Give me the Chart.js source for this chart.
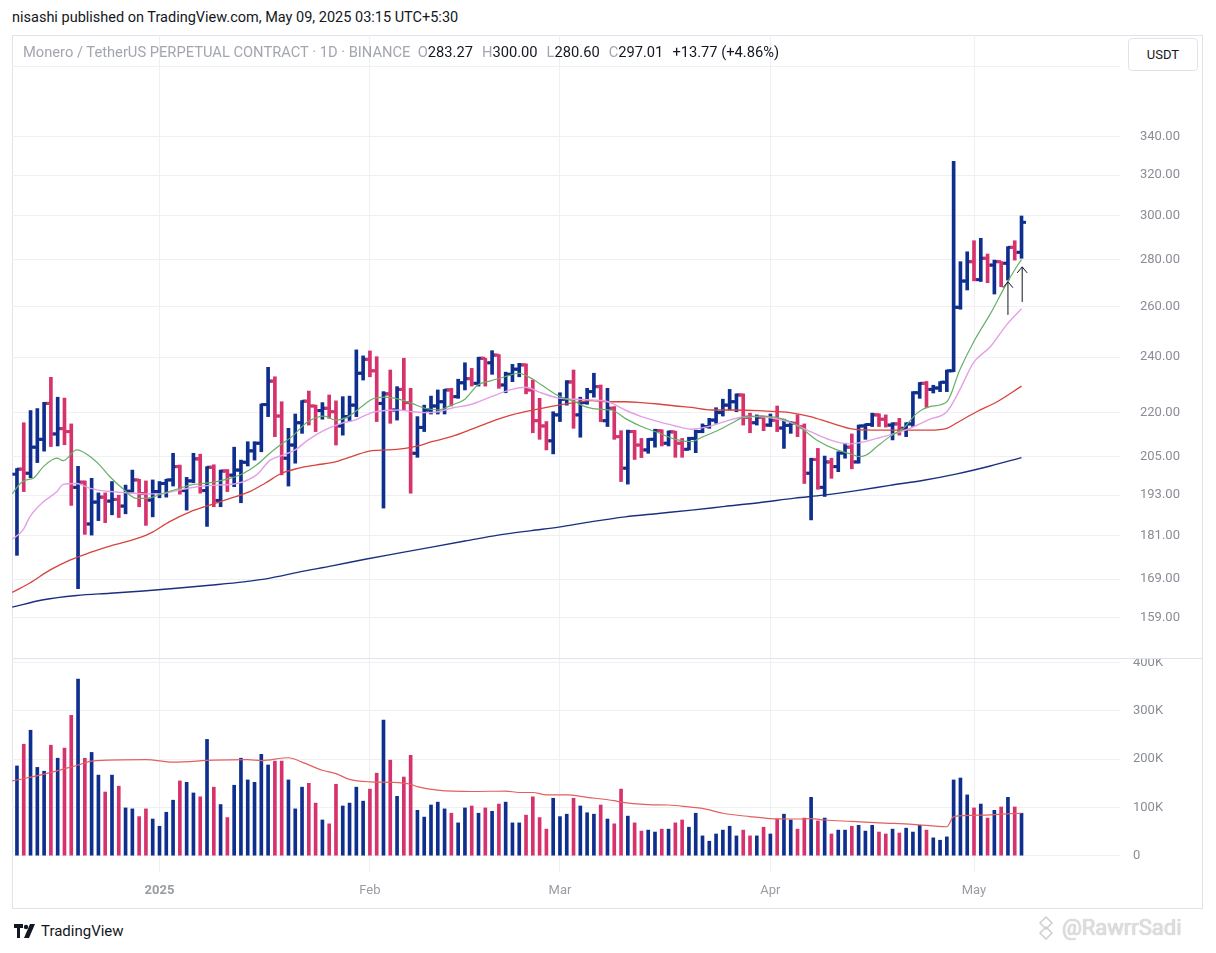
<!DOCTYPE html>
<html><head><meta charset="utf-8">
<script src="https://cdn.jsdelivr.net/npm/chart.js@4.4.1/dist/chart.umd.min.js"></script>
<style>
html,body{margin:0;padding:0;background:#fff;}
body{width:1216px;height:953px;position:relative;overflow:hidden;font-family:Roboto,'Liberation Sans',sans-serif;color:#131722;}
#hdr{position:absolute;left:12px;top:9px;font-size:14.5px;white-space:nowrap;}
#frame{position:absolute;left:12px;top:35px;width:1191px;height:874px;border:1px solid #e0e3eb;box-sizing:border-box;}
#legend{position:absolute;left:23px;top:43px;font-size:14.7px;color:#a3a6af;white-space:nowrap;}
#legend .v{color:#131722;margin-right:9px;}
#usdt{position:absolute;left:1128px;top:38px;width:70px;height:33px;border:1px solid #e0e3eb;border-radius:4px;box-sizing:border-box;font-size:13px;text-align:center;line-height:31px;background:#fff;color:#131722;}
#cp{position:absolute;left:12px;top:35px;}
#cv{position:absolute;left:12px;top:658px;}
#sep{position:absolute;left:12px;top:658px;width:1191px;height:1px;background:#e0e3eb;}
#brand{position:absolute;left:14px;top:922px;font-size:15px;color:#131722;display:flex;align-items:center;gap:5px;}
#wm{position:absolute;left:1034px;top:915px;font-size:22px;color:#dedede;display:flex;align-items:center;gap:4px;text-shadow:0 0 1px #b5b5b5;}
</style></head>
<body>
<div id="hdr">nisashi published on TradingView.com, May 09, 2025 03:15 UTC+5:30</div>
<div id="frame"></div>
<canvas id="cp" width="1191" height="623"></canvas>
<canvas id="cv" width="1191" height="252"></canvas>
<div id="sep"></div>
<div id="legend">Monero / TetherUS PERPETUAL CONTRACT · 1D · BINANCE&nbsp;&nbsp;O<span class="v">283.27</span>H<span class="v">300.00</span>L<span class="v">280.60</span>C<span class="v">297.01</span><span class="v">+13.77 (+4.86%)</span></div>
<div id="usdt">USDT</div>
<div id="brand"><svg width="22" height="14" viewBox="0 0 22 14"><path d="M0 0h9v4H6v10H3V4H0z" fill="#131722"/><circle cx="12" cy="3" r="2.2" fill="#131722"/><path d="M16 0h5l-6 14h-5z" fill="#131722"/></svg><span>TradingView</span></div>
<div id="wm"><svg width="24" height="24" viewBox="0 0 24 24"><path d="M12 1l6 6-6 6-6-6z M12 11l6 6-6 6-6-6z" fill="none" stroke="#cfcfcf" stroke-width="1.5"/></svg><span>@RawrrSadi</span></div>
<script>
// ---- data (day index 0 = 2024-12-11, 148 = 2025-05-08) ----
const monthTickDays = [21, 52, 80, 111, 141];
const monthLabels = ['2025', 'Feb', 'Mar', 'Apr', 'May'];
const priceTicks = [159, 169, 181, 193, 205, 220, 240, 260, 280, 300, 320, 340, 380];
const hiddenPriceLabels = [380];
const volumeTicksK = [0, 100, 200, 300, 400];

const opens = [199.5,201.1,199.8,208.2,210.8,223.1,212.6,214.4,213.4,195.4,
197.0,184.4,190.9,192.4,191.2,191.7,189.7,194.2,197.7,193.5,
191.5,194.1,196.6,197.7,201.9,194.4,197.4,204.4,194.4,201.7,
191.4,200.5,199.2,200.8,203.3,207.0,209.5,222.7,231.1,218.7,
204.6,208.9,216.4,223.9,222.2,220.6,221.4,220.2,215.3,218.5,
222.5,234.0,239.2,234.9,223.1,226.5,220.8,228.1,223.4,206.2,
214.8,220.8,222.2,223.7,227.9,225.5,230.5,232.0,230.3,239.6,
237.9,240.8,229.7,233.6,235.5,237.1,227.9,217.1,215.3,210.3,
219.1,224.6,230.8,219.1,223.4,227.3,229.1,217.1,221.4,211.7,
201.4,213.4,208.9,207.3,210.8,213.7,209.5,213.3,209.5,207.5,
211.1,213.4,215.1,217.3,219.9,222.5,223.7,226.1,218.3,216.4,
218.3,215.6,217.3,214.6,215.5,216.2,215.0,199.8,204.2,195.4,
203.4,201.9,206.3,208.2,203.4,215.3,215.8,219.1,217.6,215.6,
216.0,214.5,216.0,226.9,230.3,228.1,228.6,230.7,234.9,259.7,
270.7,279.1,271.3,280.6,277.6,279.1,278.4,285.5,283.27];
const highs = [201.3,216.4,220.6,221.3,223.5,232.5,225.3,225.0,216.0,202.0,
197.4,198.2,193.7,193.7,197.2,193.0,196.1,200.8,197.9,197.4,
197.7,197.2,197.9,206.2,202.4,198.5,206.2,205.9,201.9,202.5,
200.8,201.0,208.2,204.0,210.0,210.0,222.9,236.2,232.7,223.7,
214.5,219.4,224.1,227.5,222.5,223.4,226.1,224.0,225.5,225.7,
242.8,240.5,242.4,240.2,227.3,235.2,229.1,239.6,228.5,218.5,
222.5,225.7,227.9,228.1,228.5,231.8,237.9,235.8,240.0,239.6,
242.5,241.0,234.4,237.3,237.7,237.5,231.5,224.9,216.8,220.2,
226.9,231.3,235.2,225.3,228.5,234.0,229.7,228.5,222.0,213.7,
213.9,213.8,211.1,211.1,214.2,214.0,213.6,213.5,211.1,211.5,
213.9,216.0,217.9,221.6,224.6,228.1,226.5,226.5,219.7,219.1,
218.7,219.4,222.2,217.6,216.8,219.1,216.0,204.6,207.8,205.3,
204.6,206.7,209.5,212.6,215.6,216.0,219.7,219.5,219.1,216.4,
217.9,216.4,227.3,230.6,231.0,229.6,230.9,235.2,327.0,279.1,
283.5,288.5,289.6,282.5,279.8,279.2,285.8,288.5,300.00];
const lows = [175.5,194.1,198.4,203.2,206.9,208.4,208.6,209.0,189.9,166.5,
181.4,181.2,185.4,184.8,187.1,186.3,187.4,193.9,189.5,184.0,
186.5,192.2,192.4,195.8,193.3,188.5,196.8,193.6,183.7,189.5,
189.5,194.1,195.6,190.7,202.1,204.0,206.7,218.5,211.7,199.3,
195.8,203.0,212.8,215.6,213.4,217.6,217.9,208.9,212.2,216.8,
218.5,231.5,232.7,216.8,189.1,216.2,217.3,220.8,193.6,204.9,
213.4,219.4,219.4,219.4,222.2,224.9,227.9,229.3,229.3,229.3,
233.6,228.5,226.9,230.9,232.7,226.5,213.0,210.8,207.3,206.0,
216.8,222.5,214.5,211.5,222.8,225.3,216.8,215.1,210.8,197.2,
196.4,204.2,204.8,206.2,208.2,208.6,208.6,204.9,204.9,207.3,
206.4,213.0,214.5,216.2,218.7,220.8,220.2,215.6,213.0,215.6,
213.7,215.1,213.4,207.8,212.8,211.7,196.6,185.6,194.8,192.6,
198.2,200.3,204.6,201.2,203.0,210.8,215.1,215.1,214.9,210.6,
212.2,211.7,215.1,224.9,221.7,226.8,227.3,227.3,234.6,258.9,
266.9,270.8,270.5,270.0,265.2,268.3,271.1,279.8,280.60];
const closes = [201.1,199.8,208.2,210.8,223.1,212.6,214.4,213.4,195.4,197.0,
184.4,190.9,192.4,191.2,191.7,189.7,194.2,197.7,193.5,191.5,
194.1,196.6,197.7,201.9,194.4,197.4,204.4,194.4,201.7,191.4,
200.5,199.2,200.8,203.3,207.0,209.5,222.7,231.1,218.7,204.6,
208.9,216.4,223.9,222.2,220.6,221.4,220.2,215.3,218.5,222.5,
234.0,239.2,234.9,223.1,226.5,220.8,228.1,223.4,206.2,214.8,
220.8,222.2,223.7,227.9,225.5,230.5,232.0,230.3,239.6,237.9,
240.8,229.7,233.6,235.5,237.1,227.9,217.1,215.3,210.3,219.1,
224.6,230.8,219.1,223.4,227.3,229.1,217.1,221.4,211.7,201.4,
213.4,208.9,207.3,210.8,213.7,209.5,213.3,209.5,207.5,211.1,
213.4,215.1,217.3,219.9,222.5,223.7,226.1,218.3,216.4,218.3,
215.6,217.3,214.6,215.5,216.2,215.0,199.8,204.2,195.4,203.4,
201.9,206.3,208.2,203.4,215.3,215.8,219.1,217.6,215.6,216.0,
214.5,216.0,226.9,230.3,228.1,228.6,230.7,234.9,259.7,270.7,
279.1,271.3,280.6,277.6,279.1,278.4,285.5,283.24,297.01];
const volumeK = [186,231,260,183,175,229,202,223,291,366,
202,214,167,132,167,144,99,97,81,97,
76,61,90,115,155,152,130,122,241,142,
106,79,146,202,157,152,210,188,196,196,
157,97,142,150,109,74,66,148,103,109,
142,113,138,171,281,198,123,163,208,94,
80,105,111,97,88,68,99,103,88,99,
92,107,111,68,68,84,122,79,55,119,
81,86,119,103,89,86,105,76,66,138,
82,68,51,53,49,55,55,68,74,59,
88,41,30,45,53,61,41,53,41,41,
59,45,76,86,74,55,78,121,72,78,
45,53,53,61,63,51,63,49,45,55,
47,57,49,63,53,37,32,39,157,161,
126,99,107,78,94,101,121,101,88];

// moving averages: [day, value]
const maFast = [[-0.7,193.4],[0.5,196.6],[1.4,197.7],[2.4,198.2],[3.9,201.9],[5.9,204.6],[6.8,203.8],[8.8,207.3],[10.8,205.1],[12.2,202.4],[13.7,198.7],[15.7,194.8],[17.6,192.0],[19.6,192.2],[21.6,193.6],[23.5,194.8],[25.5,196.1],[27.5,196.6],[29.4,197.2],[31.4,198.2],[33.4,199.8],[35.3,202.4],[37.3,206.3],[38.5,208.4],[40.5,211.7],[42.9,216.8],[45.3,218.7],[46.9,217.3],[48.8,218.5],[50.8,222.0],[52.3,224.6],[54.2,225.3],[56.2,224.6],[58.2,223.1],[60.1,221.4],[62.1,220.8],[64.0,222.5],[66.0,224.6],[67.9,229.7],[69.9,231.3],[71.9,232.7],[73.9,234.0],[75.8,232.1],[77.3,229.7],[79.8,225.8],[82.2,223.7],[83.7,222.0],[86.1,221.0],[87.6,220.8],[89.6,217.9],[92.0,215.1],[94.5,213.0],[97.0,210.8],[99.4,210.0],[100.9,211.5],[102.9,213.4],[105.3,216.2],[107.3,218.5],[109.3,218.7],[111.7,218.3],[113.9,216.8],[115.9,213.9],[117.8,210.6],[120.8,207.3],[122.8,206.0],[124.2,205.1],[125.2,205.7],[126.7,208.4],[128.6,211.7],[130.6,214.5],[132.6,219.7],[134.5,222.0],[137.0,223.7],[138.9,235.2],[141.1,246.6],[143.4,257.0],[145.5,268.0],[147.3,277.0],[148.0,280.0]];
const maMid = [[-0.7,180.0],[0.9,182.7],[1.9,186.5],[3.9,191.0],[5.9,194.1],[6.8,196.3],[8.8,196.6],[10.8,195.1],[13.7,194.1],[15.7,193.8],[18.6,193.4],[21.1,193.4],[23.5,194.4],[26.5,195.6],[29.4,196.1],[32.4,196.6],[35.3,199.3],[37.3,204.0],[38.5,205.1],[41.0,207.3],[42.9,210.6],[45.3,213.9],[47.8,216.2],[49.8,217.3],[52.3,219.9],[54.2,220.6],[56.2,220.8],[58.2,220.2],[60.1,219.9],[62.1,220.2],[64.0,221.4],[67.0,222.8],[69.9,225.5],[72.9,228.1],[74.9,228.9],[77.3,226.8],[79.8,225.0],[82.2,224.6],[84.7,224.3],[87.1,223.7],[89.6,220.8],[92.0,218.5],[94.5,216.8],[97.0,215.3],[99.4,214.2],[101.9,215.1],[104.3,216.8],[106.8,218.3],[109.3,218.5],[112.2,217.6],[113.9,216.5],[116.9,213.4],[119.8,210.6],[122.3,209.3],[124.2,209.7],[126.7,211.1],[129.1,212.6],[131.6,214.5],[134.5,217.6],[137.0,220.2],[138.9,227.9],[140.9,237.9],[143.4,244.0],[145.8,252.6],[148.0,259.1]];
const maSlow = [[-0.7,165.5],[1.9,168.0],[4.9,171.5],[7.8,174.2],[10.8,176.3],[13.7,178.1],[16.7,179.6],[19.6,181.7],[22.5,185.1],[25.5,188.0],[28.4,190.0],[31.4,192.0],[34.3,194.1],[36.5,196.6],[39.0,199.8],[41.5,201.4],[44.0,202.4],[46.9,203.4],[49.3,205.1],[52.3,207.1],[54.7,207.3],[57.2,207.8],[59.1,208.6],[61.1,210.0],[64.0,211.7],[67.0,214.2],[69.9,216.8],[72.9,219.1],[74.9,220.2],[77.3,221.4],[79.8,222.5],[82.2,223.4],[84.7,224.1],[87.1,223.7],[89.6,223.7],[92.0,223.4],[94.5,222.9],[97.0,222.2],[99.4,221.7],[102.4,220.8],[105.3,220.8],[109.3,220.6],[112.2,220.2],[113.9,219.9],[116.9,218.5],[119.8,216.4],[123.2,214.2],[126.2,213.9],[131.1,213.9],[134.5,213.9],[137.0,214.5],[138.5,216.4],[141.4,220.2],[144.4,223.7],[148.0,229.3]];
const ma200 = [[-0.7,161.7],[3.9,163.6],[8.8,164.7],[13.7,165.3],[18.6,165.9],[23.5,166.6],[28.4,167.4],[33.4,168.3],[37.3,169.3],[41.5,170.9],[46.4,172.6],[51.3,174.4],[56.2,176.1],[61.1,177.8],[66.0,179.5],[70.9,181.2],[75.8,182.5],[79.8,183.5],[84.7,185.1],[89.6,186.5],[94.5,187.5],[99.4,188.5],[104.3,189.6],[109.3,190.7],[114.6,192.1],[118.8,193.0],[123.7,194.4],[128.6,196.0],[133.6,197.6],[138.5,199.6],[143.4,202.1],[148.0,204.8]];
const volMaK = [[-0.7,155],[4,169],[9,188],[11,196],[19,199],[23,194],[29,198],[34,199],[36,197],[40,203],[42,194],[45,177],[47,170],[49,158],[52,153],[55,152],[58,148],[59,143],[62,136],[67,133],[72,134],[74,131],[76,131],[78,126],[81,126],[84,121],[88,114],[89,111],[93,106],[96,105],[99,101],[101,98],[104,88],[108,81],[111,77],[115,76],[117,77],[119,74],[123,71],[127,68],[132,65],[137,60],[138,81],[142,84],[145,86],[148,88]];
// hand-drawn arrows on the chart: day, bottom price, tip price
const arrows = [[146, 256.6, 270.4], [148.1, 261.9, 276.8]];

// ---- styling ----
const UP = '#0f2f8f', DOWN = '#d6336c';
const GRID = '#eef0f4';
const FONT = "Roboto, 'Liberation Sans', sans-serif";
const X_MIN = -0.731, X_MAX = 162.51;
const P_MIN = 149.22, P_MAX = 399.3;
const V_MIN = -33.8, V_MAX = 409.7;

const barColors = closes.map((c, i) => c >= opens[i] ? UP : DOWN);
const pts = arr => arr.map(([d, v]) => ({x: d, y: v}));
const noPad = s => { s.paddingTop = 0; s.paddingBottom = 0; s.paddingLeft = 0; s.paddingRight = 0; };

function xScale(showLabels) {
  return {
    type: 'linear', min: X_MIN, max: X_MAX, offset: false,
    afterBuildTicks: s => { s.ticks = monthTickDays.map(v => ({value: v})); },
    afterFit: s => { s.height = showLabels ? 38 : 0; noPad(s); },
    grid: {color: GRID, drawTicks: false, offset: false},
    border: {display: false},
    ticks: {
      display: showLabels, autoSkip: false, maxRotation: 0, padding: 11,
      color: '#9a9ca5',
      font: ctx => ({family: FONT, size: 13, weight: ctx.index === 0 ? 'bold' : 'normal'}),
      callback: (v, i) => monthLabels[i]
    }
  };
}

const common = {
  responsive: false, animation: false, events: [],
  layout: {padding: 0, autoPadding: false},
  plugins: {legend: {display: false}, tooltip: {enabled: false}}
};

const arrowPlugin = {
  id: 'arrows',
  afterDatasetsDraw(chart) {
    const {ctx, scales: {x, y}} = chart;
    ctx.save();
    ctx.strokeStyle = '#131722'; ctx.lineWidth = 1;
    arrows.forEach(([d, lo, hi]) => {
      const px = x.getPixelForValue(d), y1 = y.getPixelForValue(lo), y2 = y.getPixelForValue(hi);
      ctx.beginPath();
      ctx.moveTo(px, y1); ctx.lineTo(px, y2);
      ctx.moveTo(px - 5, y2 + 6); ctx.lineTo(px, y2); ctx.lineTo(px + 5, y2 + 6);
      ctx.stroke();
    });
    ctx.restore();
  }
};

new Chart(document.getElementById('cp'), {
  type: 'bar',
  data: {
    datasets: [
      {type: 'line', data: pts(maFast), borderColor: '#66b068', borderWidth: 1.2, pointRadius: 0, cubicInterpolationMode: 'monotone', order: 0},
      {type: 'line', data: pts(maMid), borderColor: '#e3a0e6', borderWidth: 1.4, pointRadius: 0, cubicInterpolationMode: 'monotone', order: 0},
      {type: 'line', data: pts(maSlow), borderColor: '#d8433d', borderWidth: 1.3, pointRadius: 0, cubicInterpolationMode: 'monotone', order: 0},
      {type: 'line', data: pts(ma200), borderColor: '#1b2f7e', borderWidth: 1.4, pointRadius: 0, cubicInterpolationMode: 'monotone', order: 0},
      {type: 'line', data: opens.map((o, i) => ({x: i, y: o})), showLine: false, pointStyle: 'dash', pointRotation: 180,
       pointRadius: 4.5, pointBorderWidth: 3, pointBorderColor: barColors, pointBackgroundColor: barColors, order: 1},
      {type: 'line', data: closes.map((c, i) => ({x: i, y: c})), showLine: false, pointStyle: 'dash', pointRotation: 0,
       pointRadius: 4.5, pointBorderWidth: 3, pointBorderColor: barColors, pointBackgroundColor: barColors, order: 1},
      {type: 'bar', data: highs.map((h, i) => ({x: i, y: [lows[i], h]})), backgroundColor: barColors, barThickness: 3, order: 2}
    ]
  },
  options: Object.assign({}, common, {
    scales: {
      x: xScale(false),
      y: {
        type: 'logarithmic', position: 'right', min: P_MIN, max: P_MAX,
        afterBuildTicks: s => { s.ticks = priceTicks.map(v => ({value: v})); },
        afterFit: s => { s.width = 83; noPad(s); },
        grid: {color: GRID, drawTicks: false}, border: {display: false},
        ticks: {padding: 20, color: '#8a8d96', font: {family: FONT, size: 13},
          callback: v => hiddenPriceLabels.includes(v) ? '' : Number(v).toFixed(2)}
      }
    }
  }),
  plugins: [arrowPlugin]
});

new Chart(document.getElementById('cv'), {
  type: 'bar',
  data: {
    datasets: [
      {type: 'line', data: pts(volMaK), borderColor: '#e2605f', borderWidth: 1.2, pointRadius: 0, cubicInterpolationMode: 'monotone', order: 0},
      {type: 'bar', data: volumeK.map((v, i) => ({x: i, y: v})), backgroundColor: barColors, barThickness: 3, order: 1}
    ]
  },
  options: Object.assign({}, common, {
    scales: {
      x: xScale(true),
      y: {
        type: 'linear', position: 'right', min: V_MIN, max: V_MAX,
        afterBuildTicks: s => { s.ticks = volumeTicksK.map(v => ({value: v})); },
        afterFit: s => { s.width = 83; noPad(s); },
        grid: {color: GRID, drawTicks: false}, border: {display: false},
        ticks: {padding: 13, color: '#8a8d96', font: {family: FONT, size: 13}, callback: v => v === 0 ? '0' : v + 'K'}
      }
    }
  })
});
</script>
</body></html>
